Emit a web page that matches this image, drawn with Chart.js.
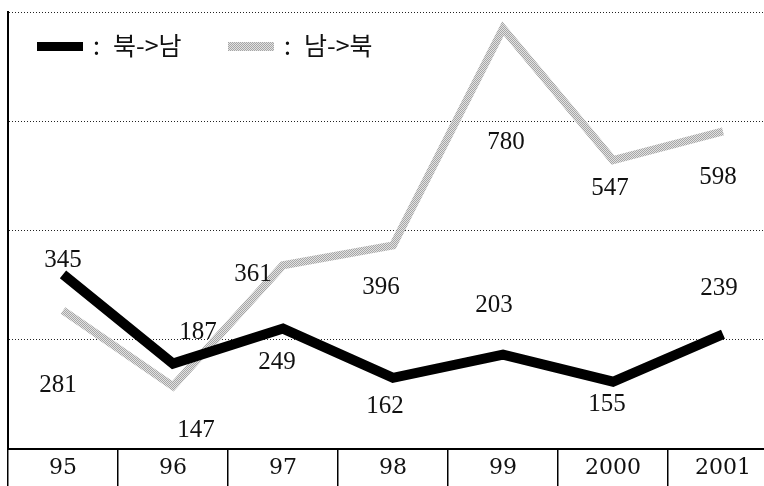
<!DOCTYPE html>
<html>
<head>
<meta charset="utf-8">
<script src="https://cdn.jsdelivr.net/npm/chart.js@4.4.0/dist/chart.umd.min.js"></script>
<style>
  html, body { margin: 0; padding: 0; background: #fff; overflow: hidden; }
  #wrap { width: 778px; height: 486px; position: relative; }
</style>
</head>
<body>
<div id="wrap"><canvas id="flowChart"></canvas></div>
<script>
// Yearly counts, both directions
const years = ['95', '96', '97', '98', '99', '2000', '2001'];
const northToSouth = [345, 187, 249, 162, 203, 155, 239];
const southToNorth = [281, 147, 361, 396, 780, 547, 598];

// value axis range (no tick labels shown, 4 equal bands)
const yMin = 36;
const yMax = 809;

// where each value label sits relative to its point, in px
const nsLabelOffsets = [[0, -14], [25, -31], [-6, 34], [-8, 29], [-9, -49], [-6, 23], [-4, -46]];
const snLabelOffsets = [[-5, 75], [23, 44], [-30, 9], [-12, 42], [3, 114], [-3, 28], [-5, 46]];

const serif = '"Liberation Serif", "DejaVu Serif", serif';
const hangul = '"Noto Sans CJK KR", "Noto Sans", sans-serif';

// grainy light grey for the second series
function grainPattern() {
    const c = document.createElement('canvas');
    c.width = 2;
    c.height = 2;
    const g = c.getContext('2d');
    g.fillStyle = '#e2e2e2';
    g.fillRect(0, 0, 2, 2);
    g.fillStyle = '#a6a6a6';
    g.fillRect(0, 0, 1, 1);
    g.fillRect(1, 1, 1, 1);
    return g.createPattern(c, 'repeat');
}
const grey = grainPattern();

// value labels next to each point
const valueLabels = {
    id: 'valueLabels',
    afterDatasetsDraw(chart) {
        const ctx = chart.ctx;
        const offsets = [nsLabelOffsets, snLabelOffsets];
        ctx.save();
        ctx.font = '25px ' + serif;
        ctx.fillStyle = '#111';
        ctx.textAlign = 'center';
        ctx.textBaseline = 'middle';
        chart.data.datasets.forEach(function (ds, di) {
            const meta = chart.getDatasetMeta(di);
            meta.data.forEach(function (pt, i) {
                const off = offsets[di][i];
                ctx.fillText(String(ds.data[i]), pt.x + off[0], pt.y + off[1]);
            });
        });
        ctx.restore();
    }
};

// legend drawn inside the plot, top left
const insideLegend = {
    id: 'insideLegend',
    afterDraw(chart) {
        const ctx = chart.ctx;
        const starts = [37, 228];
        const y = 47;
        ctx.save();
        chart.data.datasets.forEach(function (ds, i) {
            const x = starts[i];
            ctx.fillStyle = ds.borderColor;
            ctx.fillRect(x, y - 5, 46, 9);
            ctx.fillStyle = '#111';
            ctx.font = '25px ' + hangul;
            ctx.textBaseline = 'middle';
            ctx.textAlign = 'left';
            ctx.fillText(':', x + 56, y - 2);
            ctx.fillText(ds.label, x + 76, y - 2);
        });
        ctx.restore();
    }
};

new Chart(document.getElementById('flowChart'), {
    type: 'line',
    data: {
        labels: years,
        datasets: [{
            label: '북->남',
            data: northToSouth,
            borderColor: '#000',
            borderWidth: 10,
            borderJoinStyle: 'miter',
            pointRadius: 0,
            tension: 0,
            order: 0
        }, {
            label: '남->북',
            data: southToNorth,
            borderColor: grey,
            borderWidth: 8,
            borderJoinStyle: 'miter',
            pointRadius: 0,
            tension: 0,
            order: 1
        }]
    },
    options: {
        responsive: true,
        maintainAspectRatio: false,
        animation: false,
        layout: { padding: { left: 8, top: 12, right: 0, bottom: 0 } },
        plugins: {
            legend: { display: false },
            tooltip: { enabled: false }
        },
        scales: {
            x: {
                offset: true,
                grid: {
                    offset: true,
                    drawOnChartArea: false,
                    drawTicks: true,
                    tickLength: 37,
                    color: '#000',
                    lineWidth: 1.5
                },
                border: { display: true, color: '#000', width: 2 },
                ticks: {
                    padding: -31,
                    color: '#111',
                    font: { family: '"DejaVu Serif", serif', size: 22 }
                },
                afterFit(scale) { scale.height = 37; }
            },
            y: {
                min: yMin,
                max: yMax,
                afterBuildTicks(scale) {
                    scale.ticks = [0, 1, 2, 3, 4].map(function (i) {
                        return { value: yMin + i * (yMax - yMin) / 4 };
                    });
                },
                grid: { color: '#222', lineWidth: 1, drawTicks: false },
                border: { display: true, color: '#000', width: 2, dash: [1, 2] },
                ticks: { display: false }
            }
        }
    },
    plugins: [valueLabels, insideLegend]
});
</script>
</body>
</html>
